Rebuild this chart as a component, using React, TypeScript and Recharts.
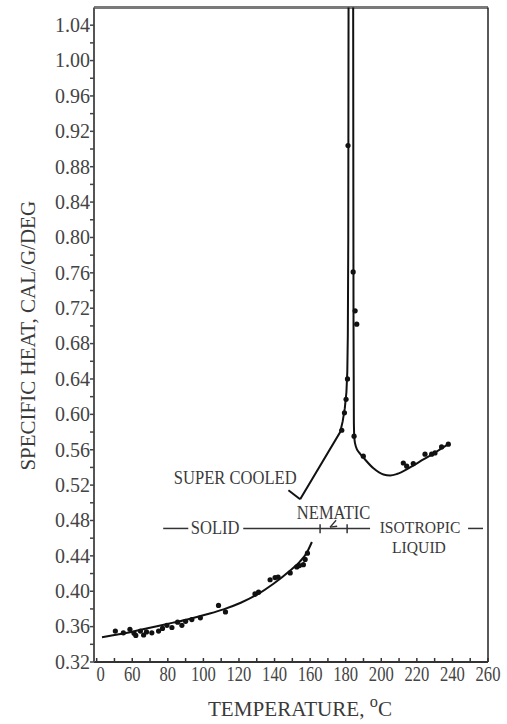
import React from 'react';
import {
  ComposedChart,
  Line,
  Scatter,
  XAxis,
  YAxis,
  ReferenceLine,
  ReferenceDot,
} from 'recharts';

// ---- axis ticks ----
const xAllTicks = [40, 50, 60, 70, 80, 90, 100, 110, 120, 130, 140, 150, 160, 170, 180, 190, 200, 210, 220, 230, 240, 250, 260];
const xMajorTicks = [40, 60, 80, 100, 120, 140, 160, 180, 200, 220, 240, 260];
const xTickLabels = ['0', '60', '80', '100', '120', '140', '160', '180', '200', '220', '240', '260'];

const yAllTicks = [
  0.32, 0.34, 0.36, 0.38, 0.4, 0.42, 0.44, 0.46, 0.48, 0.5, 0.52, 0.54, 0.56, 0.58, 0.6, 0.62, 0.64, 0.66, 0.68,
  0.7, 0.72, 0.74, 0.76, 0.78, 0.8, 0.82, 0.84, 0.86, 0.88, 0.9, 0.92, 0.94, 0.96, 0.98, 1.0, 1.02, 1.04,
];
const yMajorTicks = [0.32, 0.36, 0.4, 0.44, 0.48, 0.52, 0.56, 0.6, 0.64, 0.68, 0.72, 0.76, 0.8, 0.84, 0.88, 0.92, 0.96, 1.0, 1.04];
const yTickLabels = ['0.32', '0.36', '0.40', '0.44', '0.48', '0.52', '0.56', '0.60', '0.64', '0.68', '0.72', '0.76', '0.80', '0.84', '0.88', '0.92', '0.96', '1.00', '1.04'];

// ---- fitted curves (temperature °C, specific heat cal/g/deg) ----
const solidCurveT = [43, 50, 59.4, 66, 73.9, 83, 92.6, 102, 111.3, 121, 130, 139.4, 148.8, 154, 158.1, 161];
const solidCurveCp = [0.348, 0.3505, 0.354, 0.357, 0.3605, 0.3645, 0.369, 0.374, 0.3795, 0.387, 0.396, 0.4085, 0.4235, 0.433, 0.4435, 0.4557];

// super-cooled nematic rising into the transition peak
const risingCurveT = [154.4, 176.9, 178.3, 179.5, 180.4, 180.9, 181.2, 181.45, 181.6];
const risingCurveCp = [0.504, 0.58, 0.592, 0.607, 0.625, 0.648, 0.69, 0.8, 1.06];

// isotropic liquid branch falling from the peak
const fallingCurveT = [184.2, 184.3, 184.4, 184.6, 184.9, 185.8, 187.5, 190, 195.6, 201.2, 205, 208.7, 216.2, 223.7, 231.2, 237.7];
const fallingCurveCp = [1.06, 0.85, 0.7, 0.59, 0.572, 0.563, 0.557, 0.551, 0.539, 0.532, 0.531, 0.5325, 0.54, 0.549, 0.558, 0.5663];

// ---- measured points ----
const solidDotsT = [50.5, 55, 58.7, 61, 62, 64.6, 66.4, 68, 71, 74.8, 77, 79.5, 82.3, 85.5, 87.9, 90, 93.5, 98.3, 108.5, 112.4, 129, 131, 137.5, 140.3, 142, 148.8, 152.5, 154, 156.2, 157.2, 158.5];
const solidDotsCp = [0.355, 0.353, 0.357, 0.3525, 0.35, 0.355, 0.3505, 0.354, 0.353, 0.355, 0.358, 0.3615, 0.359, 0.365, 0.3615, 0.366, 0.368, 0.37, 0.384, 0.3766, 0.397, 0.399, 0.413, 0.4155, 0.416, 0.4207, 0.4275, 0.429, 0.43, 0.436, 0.443];

const peakDotsT = [177.8, 179.3, 180.2, 181, 181.3, 184.2, 185.3, 186.2];
const peakDotsCp = [0.582, 0.6017, 0.617, 0.64, 0.904, 0.761, 0.717, 0.702];

const liquidDotsT = [184.7, 189.9, 212.4, 214.3, 218, 224.6, 228.3, 230.2, 233.9, 237.7];
const liquidDotsCp = [0.5753, 0.5527, 0.545, 0.5414, 0.5444, 0.555, 0.555, 0.5564, 0.5632, 0.5663];

// ---- phase annotations ----
const phaseLevel = 0.471;
const phaseSegments = [
  [77.4, 91.5],
  [122.4, 193.7],
  [248.8, 257.2],
];
const transitionTemps = [165.6, 180.8];

const toRows = (t: number[], cp: number[]) => t.map((v, i) => ({ t: v, cp: cp[i] }));

const solidCurve = toRows(solidCurveT, solidCurveCp);
const risingCurve = toRows(risingCurveT, risingCurveCp);
const fallingCurve = toRows(fallingCurveT, fallingCurveCp);
const solidDots = toRows(solidDotsT, solidDotsCp);
const peakDots = toRows(peakDotsT, peakDotsCp);
const liquidDots = toRows(liquidDotsT, liquidDotsCp);

const SERIF = '"Liberation Serif", "Times New Roman", serif';
const INK = '#111';
const TEXT = '#3a3a3a';

type SqProps = {
  x: number;
  y: number;
  sx?: number;
  size: number;
  anchor?: 'start' | 'middle' | 'end';
  fill?: string;
  children: React.ReactNode;
};

const Squeezed = ({ x, y, sx = 1, size, anchor = 'middle', fill = TEXT, children }: SqProps) => (
  <g transform={`translate(${x},${y}) scale(${sx},1)`}>
    <text x={0} y={0} textAnchor={anchor} fontSize={size} fontFamily={SERIF} fill={fill}>
      {children}
    </text>
  </g>
);

const YTick = (props: any) => {
  const { x, y, payload } = props;
  const idx = yMajorTicks.findIndex((v) => Math.abs(v - payload.value) < 1e-6);
  if (idx < 0) return <g />;
  return (
    <Squeezed x={x} y={y + 6.8} size={20} sx={1} anchor="end" fill="#444">
      {yTickLabels[idx]}
    </Squeezed>
  );
};

const XTick = (props: any) => {
  const { x, y, payload } = props;
  const idx = xMajorTicks.indexOf(payload.value);
  return (
    <g>
      <line x1={x} x2={x} y1={y} y2={y - 4} stroke="#333" strokeWidth={1.5} />
      {idx >= 0 && (
        <Squeezed x={idx === 0 ? x + 4 : x} y={y + 19} size={20} sx={0.83} anchor="middle" fill="#444">
          {xTickLabels[idx]}
        </Squeezed>
      )}
    </g>
  );
};

const YTitle = (props: any) => {
  const { viewBox } = props;
  const cx = viewBox.x + 35;
  const cy = viewBox.y + viewBox.height / 2 + 1;
  return (
    <text
      transform={`translate(${cx},${cy}) rotate(-90)`}
      textAnchor="middle"
      fontSize={21}
      fontFamily={SERIF}
      fill={TEXT}
    >
      SPECIFIC HEAT,  CAL/G/DEG
    </text>
  );
};

const XTitle = (props: any) => {
  const { viewBox } = props;
  const cx = viewBox.x + viewBox.width / 2 + 9;
  const by = viewBox.y + 54;
  return (
    <g transform={`translate(${cx},${by}) scale(0.96,1)`}>
      <text x={0} y={0} textAnchor="middle" fontSize={22} fontFamily={SERIF} fill={TEXT}>
        TEMPERATURE,{' '}
        <tspan fontSize={17} dy={-9}>o</tspan>
        <tspan dy={9}>C</tspan>
      </text>
    </g>
  );
};

const labelShape = (text: string, size = 18) => (p: any) => (
  <Squeezed x={p.cx} y={p.cy + size / 3} size={size} sx={0.92} anchor="middle">
    {text}
  </Squeezed>
);

const dotShape = (p: any) => <circle cx={p.cx} cy={p.cy} r={2.6} fill={INK} />;

export default function App() {
  return (
    <div style={{ position: 'absolute', left: 0, top: 0, background: '#fff' }}>
      <ComposedChart width={507} height={724} margin={{ top: 7.5, right: 19, bottom: 0, left: 0 }}>
        <XAxis
          dataKey="t"
          type="number"
          domain={[38.5, 260]}
          ticks={xAllTicks}
          interval={0}
          height={62}
          tickLine={false}
          tickSize={0}
          tickMargin={0}
          tick={<XTick />}
          axisLine={{ stroke: '#333', strokeWidth: 2 }}
          label={{ content: XTitle }}
        />
        <YAxis
          type="number"
          domain={[0.32, 1.06]}
          ticks={yAllTicks}
          interval={0}
          width={94}
          tickSize={4}
          tickMargin={0}
          tickLine={{ stroke: '#444', strokeWidth: 1.5 }}
          tick={<YTick />}
          axisLine={{ stroke: '#555', strokeWidth: 2 }}
          label={{ content: YTitle }}
        />

        {/* frame: top and right edges */}
        <ReferenceLine y={1.06} stroke="#7a7a7a" strokeWidth={3} ifOverflow="visible" />
        <ReferenceLine x={260} stroke="#222" strokeWidth={1.5} ifOverflow="visible" />

        {/* phase band line with transition marks */}
        {phaseSegments.map(([a, b], i) => (
          <ReferenceLine
            key={`seg-${i}`}
            segment={[
              { x: a, y: phaseLevel },
              { x: b, y: phaseLevel },
            ]}
            stroke="#333"
            strokeWidth={1.5}
          />
        ))}
        {transitionTemps.map((t, i) => (
          <ReferenceLine
            key={`tr-${i}`}
            segment={[
              { x: t, y: 0.4656 },
              { x: t, y: 0.4757 },
            ]}
            stroke="#333"
            strokeWidth={1.5}
          />
        ))}
        {/* pointer from the NEMATIC label */}
        <ReferenceLine segment={[{ x: 171.2, y: 0.4724 }, { x: 174.6, y: 0.4803 }]} stroke="#333" strokeWidth={1.3} />
        <ReferenceLine segment={[{ x: 171.2, y: 0.4724 }, { x: 175.2, y: 0.4735 }]} stroke="#333" strokeWidth={1.3} />
        {/* leader from the SUPER COOLED label */}
        <ReferenceLine segment={[{ x: 147.8, y: 0.5142 }, { x: 154.4, y: 0.504 }]} stroke={INK} strokeWidth={2} />

        <ReferenceDot x={106.6} y={phaseLevel} r={0} shape={labelShape('SOLID')} />
        <ReferenceDot x={173.2} y={0.4885} r={0} shape={labelShape('NEMATIC')} />
        <ReferenceDot x={221.8} y={0.4725} r={0} shape={labelShape('ISOTROPIC', 17)} />
        <ReferenceDot x={221.2} y={0.4495} r={0} shape={labelShape('LIQUID', 17)} />
        <ReferenceDot x={117.9} y={0.5278} r={0} shape={labelShape('SUPER COOLED')} />

        {/* curves */}
        <Line data={solidCurve} dataKey="cp" type="monotone" stroke={INK} strokeWidth={2} dot={false} isAnimationActive={false} />
        <Line data={risingCurve} dataKey="cp" type="linear" stroke={INK} strokeWidth={2} dot={false} isAnimationActive={false} />
        <Line data={fallingCurve} dataKey="cp" type="monotone" stroke={INK} strokeWidth={2} dot={false} isAnimationActive={false} />

        {/* measurements */}
        <Scatter data={solidDots} dataKey="cp" shape={dotShape} isAnimationActive={false} />
        <Scatter data={peakDots} dataKey="cp" shape={dotShape} isAnimationActive={false} />
        <Scatter data={liquidDots} dataKey="cp" shape={dotShape} isAnimationActive={false} />
      </ComposedChart>
    </div>
  );
}
